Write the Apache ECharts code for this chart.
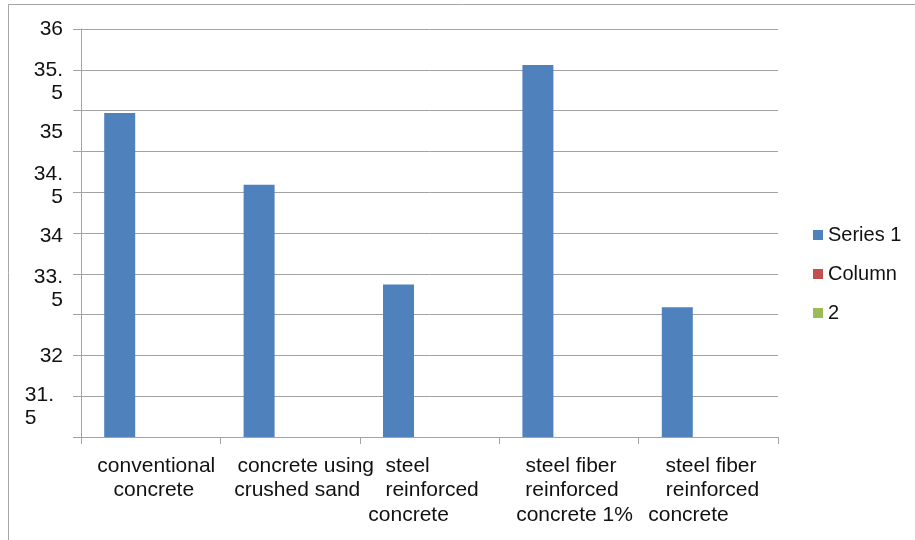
<!DOCTYPE html>
<html>
<head>
<meta charset="utf-8">
<script src="https://cdn.jsdelivr.net/npm/echarts@6/dist/echarts.min.js"></script>
<style>
  html, body { margin: 0; padding: 0; background: #fff; }
  #chart { width: 915px; height: 540px; }
</style>
</head>
<body>
<div id="chart"></div>
<script>
// ---- data ----
const categories = [
  'conventional\nconcrete',
  'concrete using\ncrushed sand',
  'steel\nreinforced\nconcrete',
  'steel fiber\nreinforced\nconcrete 1%',
  'steel fiber\nreinforced\nconcrete'
];
const seriesNames = ['Series 1', 'Column', '2'];
const series1 = [34.97, 34.09, 32.87, 35.56, 32.59];
const column = [];
const two = [];
const yTicks = [36, 35.5, 35, 34.5, 34, 33.5, 33, 32.5, 32, 31.5, 31];
const yTickText = ['36', '35.\n5', '35', '34.\n5', '34', '33.\n5', '', '', '32', '31.\n5', ''];

// ---- style / layout ----
const FONT = 'Liberation Sans, Arial, sans-serif';
const TXT = '#111';
const GRID_COLOR = '#a3a3a3';
const COLORS = ['#4F81BD', '#C0504D', '#9BBB59'];
const Y_SHIFT = [0, 11.5, 22, 34, 44, 55.5, 0, 0, 1, 10.5, 0];
const CAT_SHIFT = [[5.6, 3.1], [15.6, 7.1], [-21.9, 2.6, -20.9], [2.1, 3.1, 5.6], [2.7, 4.2, -19.8]];

const yRich = {
  y: { fontSize: 21, lineHeight: 23, color: TXT, fontFamily: FONT },
  yl: { fontSize: 21, lineHeight: 23, color: TXT, fontFamily: FONT, align: 'left' },
  ylp: { fontSize: 21, lineHeight: 23, color: TXT, fontFamily: FONT, align: 'left', padding: [0, 9, 0, 0] }
};
Y_SHIFT.forEach((s, i) => {
  if (s > 0) yRich['sp' + i] = { fontSize: 1, lineHeight: 2 * s, color: 'rgba(0,0,0,0)' };
});

const xRich = {};
CAT_SHIFT.forEach((arr, i) => {
  arr.forEach((s, k) => {
    xRich['x' + i + '_' + k] = {
      fontSize: 21, lineHeight: 24.5, color: TXT, fontFamily: FONT,
      padding: s >= 0 ? [0, 0, 0, 2 * s] : [0, -2 * s, 0, 0]
    };
  });
});

const chart = echarts.init(document.getElementById('chart'), null, { renderer: 'canvas' });
chart.setOption({
  animation: false,
  backgroundColor: '#fff',
  textStyle: { fontFamily: FONT },
  graphic: [{
    type: 'rect', silent: true, z: -10,
    shape: { x: 8.5, y: 4.5, width: 1200, height: 1200 },
    style: { fill: 'none', stroke: '#a6a6a6', lineWidth: 1 }
  }],
  grid: { left: 81, right: 137, top: 29, bottom: 103, containLabel: false, outerBoundsMode: 'none' },
  legend: {
    data: seriesNames,
    orient: 'vertical',
    left: 813, top: 225,
    padding: 0,
    icon: 'rect',
    itemWidth: 10, itemHeight: 10, itemGap: 19,
    textStyle: { fontSize: 20, lineHeight: 20, color: TXT, fontFamily: FONT }
  },
  xAxis: {
    type: 'category',
    data: categories,
    axisLine: { show: true, lineStyle: { color: GRID_COLOR, width: 1 } },
    axisTick: { show: true, length: 7, lineStyle: { color: GRID_COLOR } },
    axisLabel: {
      interval: 0, margin: 16.5, color: TXT, fontSize: 21, lineHeight: 24.5, fontFamily: FONT,
      formatter: function (value, idx) {
        return value.split('\n').map((l, k) => '{x' + idx + '_' + k + '|' + l + '}').join('\n');
      },
      rich: xRich
    },
    splitLine: { show: false }
  },
  yAxis: {
    type: 'value',
    min: 31, max: 36, interval: 0.5,
    axisLine: { show: true, lineStyle: { color: GRID_COLOR, width: 1 } },
    axisTick: { show: true, length: 8, lineStyle: { color: GRID_COLOR } },
    splitLine: { show: true, lineStyle: { color: GRID_COLOR, width: 1 } },
    axisLabel: {
      margin: 18, color: TXT, fontSize: 21, fontFamily: FONT,
      showMinLabel: true, showMaxLabel: true,
      formatter: function (v) {
        const i = yTicks.findIndex(t => Math.abs(t - v) < 1e-6);
        if (i < 0 || !yTickText[i]) return '';
        const lines = yTickText[i].split('\n');
        let s = lines.map((l, k) => {
          if (i === 9) return (k === 0 ? '{ylp|' : '{yl|') + l + '}';
          return '{y|' + l + '}';
        }).join('\n');
        if (Y_SHIFT[i] > 0) s = '{sp' + i + '| }\n' + s;
        return s;
      },
      rich: yRich
    }
  },
  series: [
    { name: seriesNames[0], type: 'bar', data: series1, barWidth: 31, barGap: '0%', itemStyle: { color: COLORS[0] } },
    { name: seriesNames[1], type: 'bar', data: column, barWidth: 31, barGap: '0%', itemStyle: { color: COLORS[1] } },
    { name: seriesNames[2], type: 'bar', data: two, barWidth: 31, barGap: '0%', itemStyle: { color: COLORS[2] } }
  ]
});
</script>
</body>
</html>
